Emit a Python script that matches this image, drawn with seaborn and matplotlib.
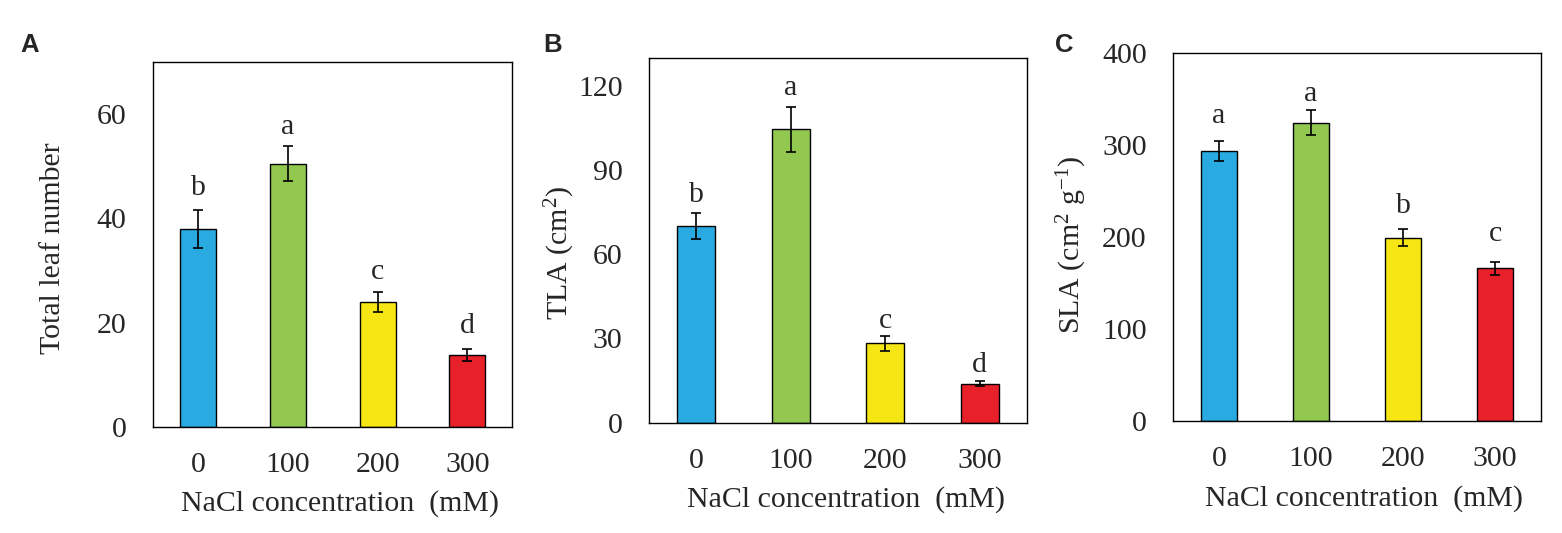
import matplotlib
matplotlib.use("Agg")
import matplotlib.pyplot as plt
import matplotlib.transforms as mtransforms
import seaborn as sns
import pandas as pd

# --- data ---
nacl = ["0", "100", "200", "300"]
leaf_mean = [37.9, 50.5, 24.0, 13.8]
leaf_err = [3.6, 3.4, 1.9, 1.1]
leaf_sig = ["b", "a", "c", "d"]

tla_mean = [70.0, 104.5, 28.3, 13.9]
tla_err = [4.7, 8.0, 2.7, 1.0]
tla_sig = ["b", "a", "c", "d"]

sla_mean = [293.5, 324.7, 199.5, 166.0]
sla_err = [11.0, 14.0, 9.0, 7.0]
sla_sig = ["a", "a", "b", "c"]

COLORS = ["#29ABE2", "#92C850", "#F5E614", "#E8202A"]

sns.set_style("white")
plt.rcParams["font.family"] = ["Liberation Serif", "DejaVu Serif"]
plt.rcParams["mathtext.fontset"] = "custom"
plt.rcParams["mathtext.rm"] = "Liberation Serif"
plt.rcParams["mathtext.it"] = "Liberation Serif:italic"

FS = 21.5

fig = plt.figure(figsize=(15.62, 5.33), dpi=100, facecolor="white")

# tag, y label, values, errors, letters, ylim, yticks, axes rect,
# tag position, y label anchor (fig coords), letter gaps (px above error cap)
panels = [
    ("A", "Total leaf number", leaf_mean, leaf_err, leaf_sig, (0, 70), [0, 20, 40, 60],
     [0.098, 0.199, 0.230, 0.685], (0.0128, 0.938), (0.0425, 0.534), [15, 12, 13, 16]),
    ("B", "TLA (cm$^{2}$)", tla_mean, tla_err, tla_sig, (0, 130), [0, 30, 60, 90, 120],
     [0.4155, 0.207, 0.242, 0.685], (0.3476, 0.938), (0.3695, 0.526), [11, 12, 8, 9]),
    ("C", "SLA (cm$^{2}$ g$^{-1}$)", sla_mean, sla_err, sla_sig, (0, 400), [0, 100, 200, 300, 400],
     [0.751, 0.210, 0.2356, 0.690], (0.6754, 0.938), (0.697, 0.540), [18, 9, 16, 21]),
]

for tag, ylab, mean, err, sig, ylim, yticks, rect, tagpos, ylab_xy, gaps in panels:
    ax = fig.add_axes(rect)
    df = pd.DataFrame({"NaCl": nacl, "val": mean})
    sns.barplot(data=df, x="NaCl", y="val", hue="NaCl", palette=COLORS,
                width=0.4, edgecolor="black", linewidth=1.0, legend=False,
                saturation=1, ax=ax, errorbar=None)
    ax.errorbar(range(len(nacl)), mean, yerr=err, fmt="none",
                ecolor="black", elinewidth=1.2, capsize=3.6, capthick=1.2)
    for i, (m, e, s, g) in enumerate(zip(mean, err, sig, gaps)):
        ax.annotate(s, xy=(i, m + e), xytext=(0, g), textcoords="offset pixels",
                    ha="center", va="baseline", fontsize=FS)

    ax.set_xlim(-0.5, 3.5)
    ax.set_ylim(*ylim)
    ax.set_yticks(yticks)
    ax.tick_params(axis="y", direction="in", length=8, width=1, labelsize=FS, pad=19)
    ax.tick_params(axis="x", length=0, labelsize=FS, pad=18)
    ax.set_xlabel("NaCl concentration  (mM)", fontsize=FS, labelpad=9)
    ax.xaxis.label.set_x(0.52)
    ax.set_ylabel(ylab, fontsize=FS)
    ax.yaxis.set_label_coords(ylab_xy[0], ylab_xy[1], transform=fig.transFigure)
    for sp in ax.spines.values():
        sp.set_visible(True)
        sp.set_color("black")
        sp.set_linewidth(1.0)

    fig.text(tagpos[0], tagpos[1], tag, fontsize=18.5, fontweight="bold",
             family="Liberation Sans", ha="left", va="top")

fig.savefig("out.png", dpi=100, facecolor="white")
